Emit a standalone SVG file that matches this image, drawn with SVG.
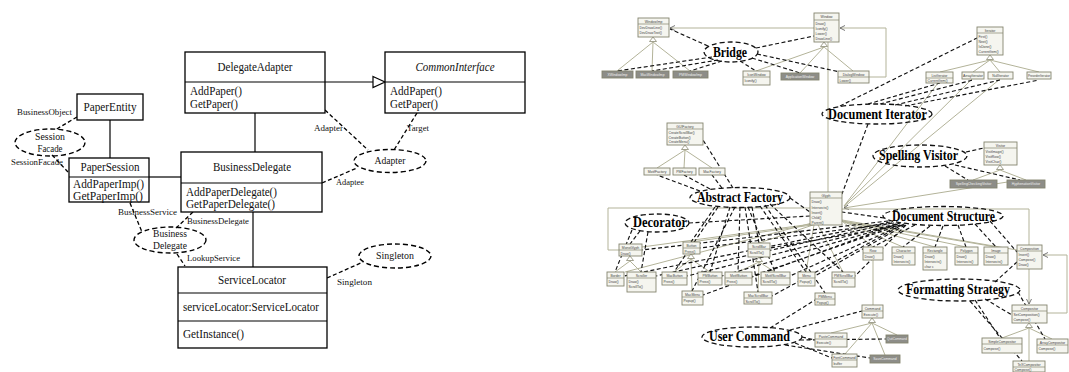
<svg xmlns="http://www.w3.org/2000/svg" width="1069" height="372" viewBox="0 0 1069 372">
<style>
.bx{fill:#fff;stroke:#000;stroke-width:1.3}
.sp{stroke:#000;stroke-width:1.2}
.t{font-family:"Liberation Serif",serif;font-size:12px;fill:#111}
.ti{font-family:"Liberation Serif",serif;font-size:12px;font-style:italic;fill:#111}
.te{font-family:"Liberation Serif",serif;font-size:11px;fill:#111}
.s{font-family:"Liberation Serif",serif;font-size:8.5px;fill:#111}
.cl{fill:none;stroke:#000;stroke-width:1.2}
.dl{fill:none;stroke:#000;stroke-width:1.3;stroke-dasharray:4 2.5}
.el{fill:none;stroke:#000;stroke-width:1.4;stroke-dasharray:5 3}
.nb rect{fill:#f5f5ef;stroke:#85856f;stroke-width:.9}
.nb line{stroke:#85856f;stroke-width:.7}
.nb text{font-family:"Liberation Sans",sans-serif;font-size:3.4px;fill:#444}
.nd rect{fill:#8d8d88}
.nd text{fill:#f0f0f0}
.ol{fill:none;stroke:#b3b399;stroke-width:1}
.tr{fill:#fff;stroke:#8a8a74;stroke-width:.8}
.rdl{fill:none;stroke:#111;stroke-width:1.15;stroke-dasharray:4 2.5}
.pe{fill:none;stroke:#111;stroke-width:1.3;stroke-dasharray:5 3}
.lab{font-family:"Liberation Serif",serif;font-size:14px;font-weight:bold;fill:#000}
</style>
<defs>
<marker id="oa" markerWidth="6" markerHeight="6" refX="5" refY="3" orient="auto" markerUnits="userSpaceOnUse">
<path d="M0,0.5 L5,3 L0,5.5" fill="none" stroke="#555" stroke-width=".8"/>
</marker>
<path id="tri" d="M0,0 L-3.5,4.5 L3.5,4.5 Z"/>
</defs>
<rect width="1069" height="372" fill="#fff"/>

<!-- ===== Class diagram with pattern annotations ===== -->
<g id="left-connectors">
<line class="cl" x1="110" y1="120" x2="110" y2="158"/>
<line class="cl" x1="149" y1="177" x2="181" y2="177"/>
<line class="cl" x1="255" y1="113" x2="255" y2="152"/>
<line class="cl" x1="253" y1="212" x2="253" y2="267"/>
<line class="cl" x1="325" y1="82" x2="373" y2="82"/>
<polygon points="373,76.5 385,82 373,87.5" fill="#fff" stroke="#000" stroke-width="1.2"/>
<line class="dl" x1="77" y1="117" x2="55" y2="130"/>
<line class="dl" x1="52" y1="155" x2="68" y2="172"/>
<line class="dl" x1="325" y1="110" x2="368" y2="150"/>
<line class="dl" x1="417" y1="113" x2="394" y2="150"/>
<line class="dl" x1="322" y1="183" x2="357" y2="168"/>
<line class="dl" x1="130" y1="203" x2="142" y2="232"/>
<line class="dl" x1="193" y1="212" x2="175" y2="229"/>
<line class="dl" x1="177" y1="254" x2="185" y2="266"/>
<line class="dl" x1="327" y1="278" x2="363" y2="262"/>
<text class="s" x="17" y="115" textLength="55" lengthAdjust="spacingAndGlyphs">BusinessObject</text>
<text class="s" x="11" y="165" textLength="52" lengthAdjust="spacingAndGlyphs">SessionFacade</text>
<text class="s" x="314" y="131" textLength="29" lengthAdjust="spacingAndGlyphs">Adapter</text>
<text class="s" x="407" y="131" textLength="22" lengthAdjust="spacingAndGlyphs">Target</text>
<text class="s" x="336" y="185" textLength="28" lengthAdjust="spacingAndGlyphs">Adaptee</text>
<text class="s" x="118" y="215" textLength="59" lengthAdjust="spacingAndGlyphs">BusinessService</text>
<text class="s" x="187" y="224" textLength="62" lengthAdjust="spacingAndGlyphs">BusinessDelegate</text>
<text class="s" x="187" y="261" textLength="53" lengthAdjust="spacingAndGlyphs">LookupService</text>
<text class="s" x="337" y="285" textLength="35" lengthAdjust="spacingAndGlyphs">Singleton</text>
</g>

<g id="paper-entity">
<rect class="bx" x="77" y="94" width="66" height="26"/>
<text class="t" x="110" y="111" text-anchor="middle" textLength="53" lengthAdjust="spacingAndGlyphs">PaperEntity</text>
</g>
<g id="paper-session">
<rect class="bx" x="69" y="158" width="80" height="44"/>
<line class="sp" x1="69" y1="177" x2="149" y2="177"/>
<text class="t" x="110" y="171" text-anchor="middle" textLength="59" lengthAdjust="spacingAndGlyphs">PaperSession</text>
<text class="t" x="73" y="188" textLength="71" lengthAdjust="spacingAndGlyphs">AddPaperImp()</text>
<text class="t" x="73" y="200" textLength="70" lengthAdjust="spacingAndGlyphs">GetPaperImp()</text>
</g>
<g id="delegate-adapter">
<rect class="bx" x="185" y="52" width="140" height="61"/>
<line class="sp" x1="185" y1="82" x2="325" y2="82"/>
<text class="t" x="255" y="71" text-anchor="middle" textLength="75" lengthAdjust="spacingAndGlyphs">DelegateAdapter</text>
<text class="t" x="190" y="95" textLength="52" lengthAdjust="spacingAndGlyphs">AddPaper()</text>
<text class="t" x="190" y="108" textLength="48" lengthAdjust="spacingAndGlyphs">GetPaper()</text>
</g>
<g id="common-interface">
<rect class="bx" x="385" y="52" width="140" height="61"/>
<line class="sp" x1="385" y1="82" x2="525" y2="82"/>
<text class="ti" x="455" y="71" text-anchor="middle" textLength="79" lengthAdjust="spacingAndGlyphs">CommonInterface</text>
<text class="t" x="390" y="95" textLength="52" lengthAdjust="spacingAndGlyphs">AddPaper()</text>
<text class="t" x="390" y="108" textLength="48" lengthAdjust="spacingAndGlyphs">GetPaper()</text>
</g>
<g id="business-delegate">
<rect class="bx" x="181" y="152" width="141" height="60"/>
<line class="sp" x1="181" y1="183" x2="322" y2="183"/>
<text class="t" x="252" y="171" text-anchor="middle" textLength="78" lengthAdjust="spacingAndGlyphs">BusinessDelegate</text>
<text class="t" x="186" y="196" textLength="91" lengthAdjust="spacingAndGlyphs">AddPaperDelegate()</text>
<text class="t" x="186" y="208" textLength="89" lengthAdjust="spacingAndGlyphs">GetPaperDelegate()</text>
</g>
<g id="service-locator">
<rect class="bx" x="178" y="267" width="149" height="81"/>
<line class="sp" x1="178" y1="293" x2="327" y2="293"/>
<line class="sp" x1="178" y1="321" x2="327" y2="321"/>
<text class="t" x="252" y="284" text-anchor="middle" textLength="68" lengthAdjust="spacingAndGlyphs">ServiceLocator</text>
<text class="t" x="183" y="311" textLength="136" lengthAdjust="spacingAndGlyphs">serviceLocator:ServiceLocator</text>
<text class="t" x="183" y="338" textLength="61" lengthAdjust="spacingAndGlyphs">GetInstance()</text>
</g>
<g id="p-session-facade">
<ellipse class="el" cx="50" cy="142.5" rx="35" ry="13.5"/>
<text class="te" x="50" y="140" text-anchor="middle" textLength="30" lengthAdjust="spacingAndGlyphs">Session</text>
<text class="te" x="50" y="152" text-anchor="middle" textLength="25" lengthAdjust="spacingAndGlyphs">Facade</text>
</g>
<g id="p-adapter">
<ellipse class="el" cx="390" cy="161" rx="36" ry="11.5"/>
<text class="te" x="390" y="164" text-anchor="middle" textLength="31" lengthAdjust="spacingAndGlyphs">Adapter</text>
</g>
<g id="p-business-delegate">
<ellipse class="el" cx="170" cy="240" rx="36" ry="13"/>
<text class="te" x="170" y="237" text-anchor="middle" textLength="34" lengthAdjust="spacingAndGlyphs">Business</text>
<text class="te" x="170" y="249" text-anchor="middle" textLength="34" lengthAdjust="spacingAndGlyphs">Delegate</text>
</g>
<g id="p-singleton">
<ellipse class="el" cx="395" cy="256" rx="36" ry="12"/>
<text class="te" x="395" y="259" text-anchor="middle" textLength="38" lengthAdjust="spacingAndGlyphs">Singleton</text>
</g>

<!-- ===== Editor model with pattern overlay ===== -->
<g id="right-connectors">
<!-- structural links -->
<path class="ol" d="M814,28 H670" marker-end="url(#oa)"/>
<path class="ol" d="M869,77 H886 V28 H840" marker-end="url(#oa)"/>
<path class="ol" d="M653,42 L617,71 M653,42 L652,71 M653,42 L690,71"/>
<path class="ol" d="M824,47 L756,71 M824,47 L800,73 M824,47 L853,71"/>
<path class="ol" d="M828,42 V192"/>
<path class="ol" d="M990,60 L940,72 M990,60 L973,72 M990,60 L1000,72 M990,60 L1039,72"/>
<path class="ol" d="M938,83 L844,206 M972,79 L844,206 M1000,79 L844,207 M1020,180 L844,208" marker-end="url(#oa)"/>
<path class="ol" d="M685,150 L657,168 M685,150 L684,168 M685,150 L712,168"/>
<path class="ol" d="M810,208 H608 V250 H619"/>
<path class="ol" d="M842,209 H1029 V245"/>
<path class="ol" d="M1029,269 V304" marker-end="url(#oa)"/>
<path class="ol" d="M1047,313 H1067 V255 H1043" marker-end="url(#oa)"/>
<path class="ol" d="M1029,328 L1002,338 M1029,328 L1052,339 M1029,328 V361"/>
<path class="ol" d="M872,323 L831,333 M872,323 L897,335 M872,323 L845,354 M872,323 L885,355"/>
<path class="ol" d="M873,260 V305"/>
<path class="ol" d="M1000,170 L973,180 M1000,170 L1026,180"/>
<path class="ol" d="M630,261 L615,272 M630,261 L641,272"/>
<path class="ol" d="M691,259 L674,272 M691,259 L710,272 M691,259 L692,291"/>
<path class="ol" d="M759,262 L738,272 M759,262 L775,272 M759,262 L758,292"/>
<path class="ol" d="M642,247 L812,224 M691,242 L812,225 M759,243 L813,225 M806,272 L814,225 M843,272 L818,225 M625,272 L812,223"/>
<path class="ol" d="M842,221 L873,247 M842,221 L903,247 M842,221 L935,247 M842,221 L966,247 M842,221 L996,247 M842,220 L1017,250"/>
<use href="#tri" x="653" y="37" class="tr"/>
<use href="#tri" x="824" y="42" class="tr"/>
<use href="#tri" x="990" y="55" class="tr"/>
<use href="#tri" x="685" y="145" class="tr"/>
<use href="#tri" x="1000" y="165" class="tr"/>
<use href="#tri" x="872" y="318" class="tr"/>
<use href="#tri" x="1029" y="323" class="tr"/>
<use href="#tri" x="630" y="256" class="tr"/>
<use href="#tri" x="691" y="254" class="tr"/>
<use href="#tri" x="759" y="257" class="tr"/>
<!-- pattern participation -->
<path class="rdl" d="M708,46 L670,29 M712,57 L617,71 M718,60 L652,71 M722,61 L690,71 M740,61 L756,71 M752,58 L800,73 M756,48 L814,36 M757,54 L840,72"/>
<path class="rdl" d="M840,106 L977,38 M868,104 L940,83 M880,104 L973,80 M895,105 L1000,80 M905,106 L1039,80 M868,124 L842,194"/>
<path class="rdl" d="M733,188 L703,140 M700,191 L657,175 M710,189 L684,175 M722,188 L712,175"/>
<path class="rdl" d="M715,207 L691,242 M718,207 L674,272 M730,207 L710,272 M740,207 L738,272 M748,207 L775,272 M752,207 L759,243 M760,206 L806,272 M770,204 L843,272 M735,207 L692,291 M765,205 L825,293 M745,207 L758,292 M790,198 L810,212"/>
<path class="rdl" d="M689,223 L810,216 M640,231 L630,244 M632,230 L615,272 M648,232 L641,272"/>
<path class="rdl" d="M884,218 L842,212 M888,221 L642,250 M890,222 L624,276 M892,223 L656,276 M894,223 L700,248 M896,224 L687,276 M898,224 L722,276 M900,225 L752,276 M902,225 L790,276 M903,225 L770,248 M905,225 L815,276 M906,225 L855,276 M900,223 L703,295 M904,224 L772,296"/>
<path class="rdl" d="M915,225 L873,247 M930,226 L903,247 M943,226 L935,247 M958,225 L966,247 M975,224 L996,247 M990,221 L1017,252"/>
<path class="rdl" d="M966,152 L984,148 M945,166 L968,180 M955,165 L1020,180"/>
<path class="rdl" d="M995,282 L1017,262 M985,299 L1012,315 M975,300 L1000,338 M970,301 L1022,361 M1018,292 L1045,339"/>
<path class="rdl" d="M770,328 L815,300 M790,330 L862,311 M802,337 L815,340 M800,340 L886,339 M795,343 L832,358 M785,345 L870,358"/>
</g>

<g id="r-window-imp" class="nb"><rect x="638" y="18" width="31" height="19"/><line x1="638" y1="24" x2="669" y2="24"/><text x="653.5" y="22.6" text-anchor="middle">WindowImp</text><text x="639.5" y="28.5">DevDrawLine()</text><text x="639.5" y="33.5">DevDrawText()</text></g>
<g id="r-xwindow-imp" class="nb nd"><rect x="602" y="71" width="31" height="7"/><text x="617.5" y="76" text-anchor="middle">XWindowImp</text></g>
<g id="r-macwindow-imp" class="nb nd"><rect x="636" y="71" width="33" height="7"/><text x="652.5" y="76" text-anchor="middle">MacWindowImp</text></g>
<g id="r-pmwindow-imp" class="nb nd"><rect x="673" y="71" width="35" height="7"/><text x="690.5" y="76" text-anchor="middle">PMWindowImp</text></g>
<g id="r-window" class="nb"><rect x="814" y="13" width="25" height="29"/><line x1="814" y1="20" x2="839" y2="20"/><text x="826.5" y="18.2" text-anchor="middle">Window</text><text x="815.5" y="24.8">Draw()</text><text x="815.5" y="29.8">Iconify()</text><text x="815.5" y="34.8">Lower()</text><text x="815.5" y="39.8">DrawLine()</text></g>
<g id="r-icon-window" class="nb"><rect x="743" y="71" width="27" height="14"/><line x1="743" y1="77" x2="770" y2="77"/><text x="756.5" y="75.6" text-anchor="middle">IconWindow</text><text x="744.5" y="82">Iconify()</text></g>
<g id="r-application-window" class="nb nd"><rect x="781" y="73" width="38" height="7"/><text x="800" y="78" text-anchor="middle">ApplicationWindow</text></g>
<g id="r-dialog-window" class="nb"><rect x="838" y="71" width="31" height="12"/><line x1="838" y1="77" x2="869" y2="77"/><text x="853.5" y="75.6" text-anchor="middle">DialogWindow</text><text x="839.5" y="81.5">Lower()</text></g>
<g id="r-iterator" class="nb"><rect x="977" y="27" width="26" height="28"/><line x1="977" y1="33" x2="1003" y2="33"/><text x="990" y="31.6" text-anchor="middle">Iterator</text><text x="978.5" y="38">First()</text><text x="978.5" y="43">Next()</text><text x="978.5" y="48">IsDone()</text><text x="978.5" y="53">CurrentItem()</text></g>
<g id="r-list-iterator" class="nb"><rect x="926" y="72" width="27" height="11"/><line x1="926" y1="78" x2="953" y2="78"/><text x="939.5" y="76.6" text-anchor="middle">ListIterator</text><text x="927.5" y="82">CurrentItem()</text></g>
<g id="r-array-iterator" class="nb"><rect x="962" y="72" width="22" height="7"/><text x="973" y="77" text-anchor="middle" textLength="20" lengthAdjust="spacingAndGlyphs">ArrayIterator</text></g>
<g id="r-null-iterator" class="nb"><rect x="988" y="72" width="25" height="7"/><text x="1000.5" y="77" text-anchor="middle">NullIterator</text></g>
<g id="r-preorder-iterator" class="nb"><rect x="1027" y="72" width="24" height="7"/><text x="1039" y="77" text-anchor="middle" textLength="22" lengthAdjust="spacingAndGlyphs">PreorderIterator</text></g>
<g id="r-gui-factory" class="nb"><rect x="667" y="123" width="36" height="22"/><line x1="667" y1="129" x2="703" y2="129"/><text x="685" y="127.6" text-anchor="middle">GUIFactory</text><text x="668.5" y="134">CreateScrollBar()</text><text x="668.5" y="138.5">CreateButton()</text><text x="668.5" y="143">CreateMenu()</text></g>
<g id="r-motif-factory" class="nb"><rect x="644" y="168" width="26" height="7"/><text x="657" y="173" text-anchor="middle">MotifFactory</text></g>
<g id="r-pm-factory" class="nb"><rect x="673" y="168" width="23" height="7"/><text x="684.5" y="173" text-anchor="middle">PMFactory</text></g>
<g id="r-mac-factory" class="nb"><rect x="699" y="168" width="26" height="7"/><text x="712" y="173" text-anchor="middle">MacFactory</text></g>
<g id="r-glyph" class="nb"><rect x="810" y="192" width="32" height="33"/><line x1="810" y1="198" x2="842" y2="198"/><text x="826" y="196.6" text-anchor="middle">Glyph</text><text x="811.5" y="203">Draw()</text><text x="811.5" y="208.5">Intersects()</text><text x="811.5" y="214">Insert()</text><text x="811.5" y="219">Child()</text><text x="811.5" y="224">Parent()</text></g>
<g id="r-visitor" class="nb"><rect x="984" y="142" width="33" height="23"/><line x1="984" y1="148" x2="1017" y2="148"/><text x="1000.5" y="146.6" text-anchor="middle">Visitor</text><text x="985.5" y="153">VisitImage()</text><text x="985.5" y="157.8">VisitRow()</text><text x="985.5" y="162.6">VisitChar()</text></g>
<g id="r-spelling-visitor" class="nb nd"><rect x="950" y="180" width="47" height="8"/><text x="973.5" y="185.4" text-anchor="middle">SpellingCheckingVisitor</text></g>
<g id="r-hyphenation-visitor" class="nb nd"><rect x="1007" y="180" width="38" height="8"/><text x="1026" y="185.4" text-anchor="middle">HyphenationVisitor</text></g>
<g id="r-mono-glyph" class="nb"><rect x="619" y="244" width="23" height="12"/><line x1="619" y1="250" x2="642" y2="250"/><text x="630.5" y="248.6" text-anchor="middle">MonoGlyph</text><text x="620.5" y="254.6">Draw()</text></g>
<g id="r-border" class="nb"><rect x="607" y="272" width="17" height="14"/><line x1="607" y1="278" x2="624" y2="278"/><text x="615.5" y="276.6" text-anchor="middle">Border</text><text x="608.5" y="283">Draw()</text></g>
<g id="r-scroller" class="nb"><rect x="627" y="272" width="29" height="20"/><line x1="627" y1="278" x2="656" y2="278"/><text x="641.5" y="276.6" text-anchor="middle">Scroller</text><text x="628.5" y="283">Draw()</text><text x="628.5" y="288">ScrollTo()</text></g>
<g id="r-button" class="nb"><rect x="683" y="242" width="17" height="12"/><line x1="683" y1="248" x2="700" y2="248"/><text x="691.5" y="246.6" text-anchor="middle">Button</text><text x="684.5" y="252.6">Press()</text></g>
<g id="r-mac-button" class="nb"><rect x="662" y="272" width="25" height="13"/><line x1="662" y1="278" x2="687" y2="278"/><text x="674.5" y="276.6" text-anchor="middle">MacButton</text><text x="663.5" y="283">Press()</text></g>
<g id="r-pm-button" class="nb"><rect x="698" y="272" width="24" height="13"/><line x1="698" y1="278" x2="722" y2="278"/><text x="710" y="276.6" text-anchor="middle">PMButton</text><text x="699.5" y="283">Press()</text></g>
<g id="r-motif-button" class="nb"><rect x="725" y="272" width="27" height="13"/><line x1="725" y1="278" x2="752" y2="278"/><text x="738.5" y="276.6" text-anchor="middle">MotifButton</text><text x="726.5" y="283">Press()</text></g>
<g id="r-motif-scrollbar" class="nb"><rect x="761" y="272" width="29" height="13"/><line x1="761" y1="278" x2="790" y2="278"/><text x="775.5" y="276.6" text-anchor="middle">MotifScrollBar</text><text x="762.5" y="283">ScrollTo()</text></g>
<g id="r-mac-menu" class="nb"><rect x="682" y="291" width="21" height="14"/><line x1="682" y1="297" x2="703" y2="297"/><text x="692.5" y="295.6" text-anchor="middle">MacMenu</text><text x="683.5" y="302">Popup()</text></g>
<g id="r-mac-scrollbar" class="nb"><rect x="744" y="292" width="28" height="12"/><line x1="744" y1="298" x2="772" y2="298"/><text x="758" y="296.6" text-anchor="middle">MacScrollBar</text><text x="745.5" y="302.6">ScrollTo()</text></g>
<g id="r-scrollbar" class="nb"><rect x="748" y="243" width="22" height="14"/><line x1="748" y1="249" x2="770" y2="249"/><text x="759" y="247.6" text-anchor="middle">ScrollBar</text><text x="749.5" y="254">ScrollTo()</text></g>
<g id="r-menu" class="nb"><rect x="798" y="272" width="17" height="14"/><line x1="798" y1="278" x2="815" y2="278"/><text x="806.5" y="276.6" text-anchor="middle">Menu</text><text x="799.5" y="283">Popup()</text></g>
<g id="r-pm-scrollbar" class="nb"><rect x="832" y="272" width="23" height="15"/><line x1="832" y1="278" x2="855" y2="278"/><text x="843.5" y="276.6" text-anchor="middle">PMScrollBar</text><text x="833.5" y="283">ScrollTo()</text></g>
<g id="r-pm-menu" class="nb"><rect x="815" y="293" width="20" height="12"/><line x1="815" y1="299" x2="835" y2="299"/><text x="825" y="297.6" text-anchor="middle">PMMenu</text><text x="816.5" y="303.6">Popup()</text></g>
<g id="r-row" class="nb"><rect x="863" y="247" width="20" height="13"/><line x1="863" y1="253" x2="883" y2="253"/><text x="873" y="251.6" text-anchor="middle">Row</text><text x="864.5" y="258">Draw()</text></g>
<g id="r-character" class="nb"><rect x="892" y="247" width="23" height="18"/><line x1="892" y1="253" x2="915" y2="253"/><text x="903.5" y="251.6" text-anchor="middle">Character</text><text x="893.5" y="258">Draw()</text><text x="893.5" y="263">Intersects()</text></g>
<g id="r-rectangle" class="nb"><rect x="923" y="247" width="24" height="23"/><line x1="923" y1="253" x2="947" y2="253"/><text x="935" y="251.6" text-anchor="middle">Rectangle</text><text x="924.5" y="258">Draw()</text><text x="924.5" y="263">Intersects()</text><text x="924.5" y="268">char c</text></g>
<g id="r-polygon" class="nb"><rect x="955" y="247" width="23" height="18"/><line x1="955" y1="253" x2="978" y2="253"/><text x="966.5" y="251.6" text-anchor="middle">Polygon</text><text x="956.5" y="258">Draw()</text><text x="956.5" y="263">Intersects()</text></g>
<g id="r-image" class="nb"><rect x="984" y="247" width="24" height="18"/><line x1="984" y1="253" x2="1008" y2="253"/><text x="996" y="251.6" text-anchor="middle">Image</text><text x="985.5" y="258">Draw()</text><text x="985.5" y="263">Intersects()</text></g>
<g id="r-composition" class="nb"><rect x="1017" y="245" width="25" height="24"/><line x1="1017" y1="251" x2="1042" y2="251"/><text x="1029.5" y="249.6" text-anchor="middle">Composition</text><text x="1018.5" y="256">Insert()</text><text x="1018.5" y="261">Compose()</text><text x="1018.5" y="266">Draw()</text></g>
<g id="r-command" class="nb"><rect x="862" y="305" width="21" height="13"/><line x1="862" y1="311" x2="883" y2="311"/><text x="872.5" y="309.6" text-anchor="middle">Command</text><text x="863.5" y="316">Execute()</text></g>
<g id="r-paste-command" class="nb"><rect x="815" y="333" width="32" height="14"/><line x1="815" y1="339" x2="847" y2="339"/><text x="831" y="337.6" text-anchor="middle">PasteCommand</text><text x="816.5" y="344">Execute()</text></g>
<g id="r-quit-command" class="nb nd"><rect x="886" y="335" width="22" height="8"/><text x="897" y="340.4" text-anchor="middle" textLength="20" lengthAdjust="spacingAndGlyphs">QuitCommand</text></g>
<g id="r-font-command" class="nb"><rect x="832" y="354" width="25" height="13"/><line x1="832" y1="360" x2="857" y2="360"/><text x="844.5" y="358.6" text-anchor="middle">FontCommand</text><text x="833.5" y="365">buffer</text></g>
<g id="r-save-command" class="nb nd"><rect x="870" y="355" width="30" height="8"/><text x="885" y="360.4" text-anchor="middle">SaveCommand</text></g>
<g id="r-compositor" class="nb"><rect x="1012" y="305" width="35" height="18"/><line x1="1012" y1="311" x2="1047" y2="311"/><text x="1029.5" y="309.6" text-anchor="middle">Compositor</text><text x="1013.5" y="316">SetComposition()</text><text x="1013.5" y="321">Compose()</text></g>
<g id="r-simple-compositor" class="nb"><rect x="982" y="338" width="40" height="15"/><line x1="982" y1="344" x2="1022" y2="344"/><text x="1002" y="342.6" text-anchor="middle">SimpleCompositor</text><text x="983.5" y="349.5">Compose()</text></g>
<g id="r-array-compositor" class="nb"><rect x="1037" y="339" width="31" height="14"/><line x1="1037" y1="345" x2="1068" y2="345"/><text x="1052.5" y="343.6" text-anchor="middle">ArrayCompositor</text><text x="1038.5" y="350">Compose()</text></g>
<g id="r-tex-compositor" class="nb"><rect x="1013" y="361" width="32" height="11"/><line x1="1013" y1="367" x2="1045" y2="367"/><text x="1029" y="365.6" text-anchor="middle">TeXCompositor</text><text x="1014.5" y="371">Compose()</text></g>

<g id="pat-bridge"><ellipse class="pe" cx="731" cy="52" rx="27" ry="10"/><text class="lab" x="730" y="57" text-anchor="middle" textLength="34" lengthAdjust="spacingAndGlyphs">Bridge</text></g>
<g id="pat-document-iterator"><ellipse class="pe" cx="877" cy="114" rx="55" ry="10"/><text class="lab" x="877.5" y="119" text-anchor="middle" textLength="99" lengthAdjust="spacingAndGlyphs">Document Iterator</text></g>
<g id="pat-abstract-factory"><ellipse class="pe" cx="740" cy="197.5" rx="50" ry="10"/><text class="lab" x="740" y="202" text-anchor="middle" textLength="86" lengthAdjust="spacingAndGlyphs">Abstract Factory</text></g>
<g id="pat-decorator"><ellipse class="pe" cx="657" cy="223" rx="32" ry="9"/><text class="lab" x="660" y="227" text-anchor="middle" textLength="54" lengthAdjust="spacingAndGlyphs">Decorator</text></g>
<g id="pat-spelling-visitor"><ellipse class="pe" cx="920" cy="156" rx="47" ry="11"/><text class="lab" x="918.5" y="160" text-anchor="middle" textLength="79" lengthAdjust="spacingAndGlyphs">Spelling Visitor</text></g>
<g id="pat-document-structure"><ellipse class="pe" cx="943" cy="216" rx="60" ry="9.5"/><text class="lab" x="943.5" y="221" text-anchor="middle" textLength="103" lengthAdjust="spacingAndGlyphs">Document Structure</text></g>
<g id="pat-formatting-strategy"><ellipse class="pe" cx="959" cy="290" rx="61" ry="11"/><text class="lab" x="958" y="294" text-anchor="middle" textLength="104" lengthAdjust="spacingAndGlyphs">Formatting Strategy</text></g>
<g id="pat-user-command"><ellipse class="pe" cx="752" cy="337" rx="50" ry="10"/><text class="lab" x="749.5" y="341" text-anchor="middle" textLength="81" lengthAdjust="spacingAndGlyphs">User Command</text></g>
</svg>
